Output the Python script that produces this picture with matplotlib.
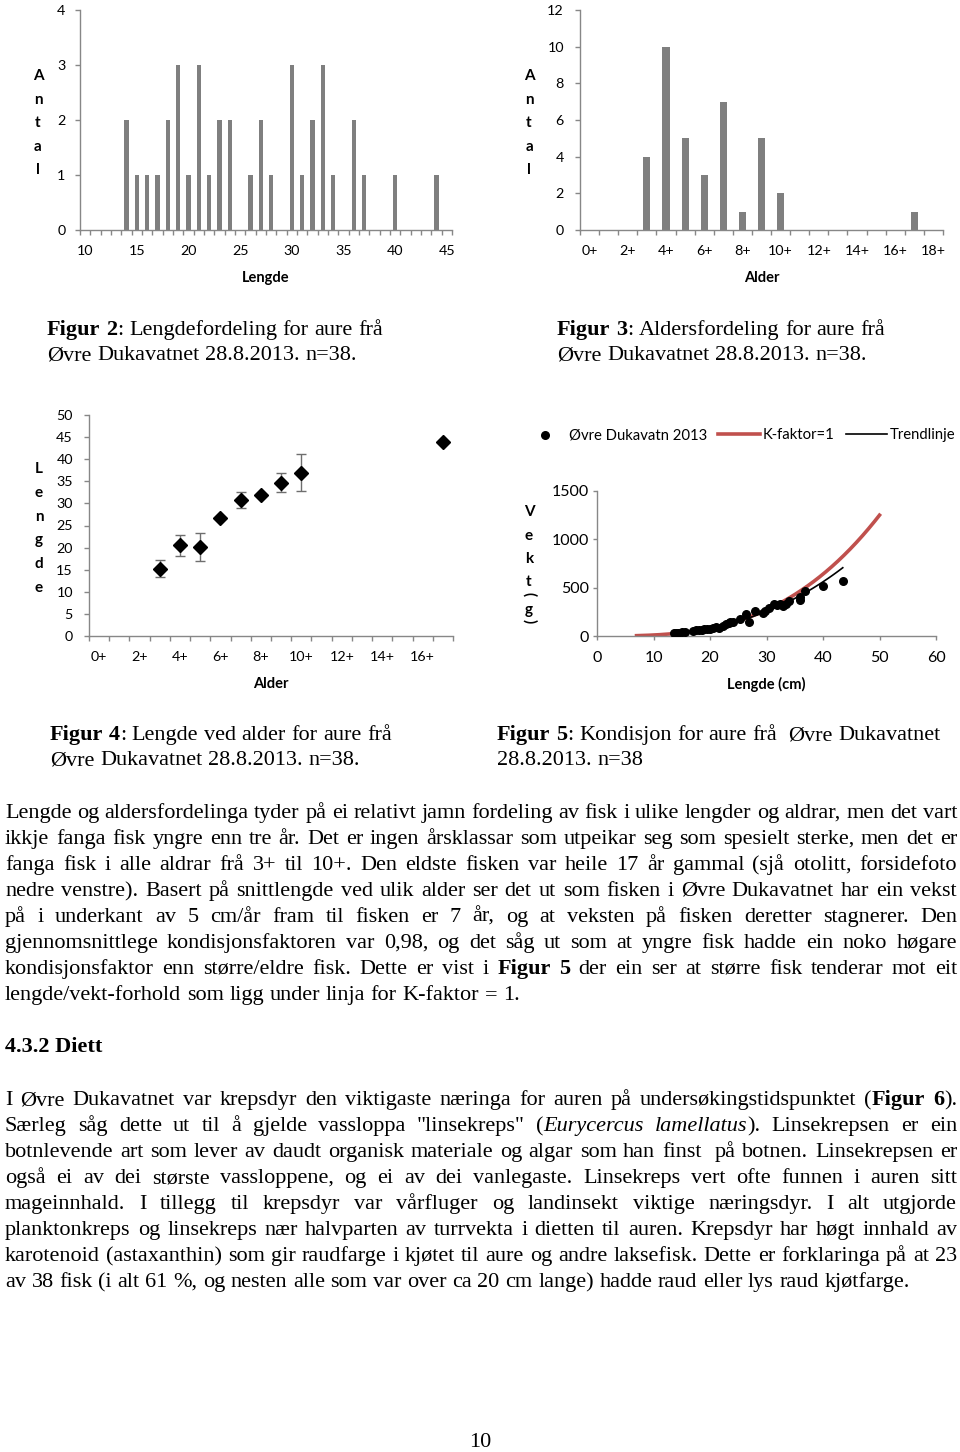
import re
import numpy as np
import matplotlib
matplotlib.use("Agg")
import matplotlib.pyplot as plt

# ---------------- data ----------------
length_classes = list(range(10, 46))
length_counts = [0, 0, 0, 0, 2, 1, 1, 1, 2, 3, 1, 3, 1, 2, 2, 0, 1, 2, 1, 0,
                 3, 1, 2, 3, 1, 0, 2, 1, 0, 0, 1, 0, 0, 0, 1, 0]
length_ticks = [10, 15, 20, 25, 30, 35, 40, 45]

age_labels = ['0+', '1+', '2+', '3+', '4+', '5+', '6+', '7+', '8+', '9+', '10+',
              '11+', '12+', '13+', '14+', '15+', '16+', '17+', '18+']
age_counts = [0, 0, 0, 4, 10, 5, 3, 7, 1, 5, 2, 0, 0, 0, 0, 0, 0, 1, 0]

la_labels = ['0+', '1+', '2+', '3+', '4+', '5+', '6+', '7+', '8+', '9+', '10+',
             '11+', '12+', '13+', '14+', '15+', '16+', '17+']
la_age_index = [3, 4, 5, 6, 7, 8, 9, 10, 17]
la_mean = [15.2, 20.5, 20.1, 26.6, 30.7, 31.9, 34.7, 36.9, 43.9]
la_err = [1.9, 2.3, 3.1, 0.0, 1.8, 0.0, 2.2, 4.2, 0.0]

fish_length = [13.6, 14.0, 14.4, 15.0, 15.6, 17.0, 17.5, 18.0, 18.5, 18.9,
               19.4, 20.0, 20.6, 21.1, 21.6, 22.3, 22.8, 23.3, 23.6, 24.0,
               25.3, 26.4, 26.9, 27.9, 29.3, 29.7, 30.5, 31.3, 31.8, 32.4,
               33.0, 33.4, 33.9, 35.9, 36.0, 36.9, 40.0, 43.5]
fish_weight = [28, 30, 33, 38, 42, 55, 58, 62, 66, 70,
               74, 76, 82, 92, 86, 108, 125, 138, 145, 150,
               178, 228, 140, 262, 236, 262, 292, 330, 325, 335,
               312, 330, 362, 372, 405, 462, 515, 568]
k_factor = 1.0
k_range = (7, 50)

para1 = [
    "Lengde og aldersfordelinga tyder på ei relativt jamn fordeling av fisk i ulike lengder og aldrar, men det vart",
    "ikkje fanga fisk yngre enn tre år. Det er ingen årsklassar som utpeikar seg som spesielt sterke, men det er",
    "fanga fisk i alle aldrar frå 3+ til 10+. Den eldste fisken var heile 17 år gammal (sjå otolitt, forsidefoto",
    "nedre venstre). Basert på snittlengde ved ulik alder ser det ut som fisken i Øvre Dukavatnet har ein vekst",
    "på i underkant av 5 cm/år fram til fisken er 7 år, og at veksten på fisken deretter stagnerer. Den",
    "gjennomsnittlege kondisjonsfaktoren var 0,98, og det såg ut som at yngre fisk hadde ein noko høgare",
    "kondisjonsfaktor enn større/eldre fisk. Dette er vist i **Figur 5** der ein ser at større fisk tenderar mot eit",
    "lengde/vekt-forhold som ligg under linja for K-faktor = 1.",
]
para2 = [
    "I Øvre Dukavatnet var krepsdyr den viktigaste næringa for auren på undersøkingstidspunktet (**Figur 6**).",
    "Særleg såg dette ut til å gjelde vassloppa \"linsekreps\" (_Eurycercus lamellatus_). Linsekrepsen er ein",
    "botnlevende art som lever av daudt organisk materiale og algar som han finst  på botnen. Linsekrepsen er",
    "også ei av dei største vassloppene, og ei av dei vanlegaste. Linsekreps vert ofte funnen i auren sitt",
    "mageinnhald. I tillegg til krepsdyr var vårfluger og landinsekt viktige næringsdyr. I alt utgjorde",
    "planktonkreps og linsekreps nær halvparten av turrvekta i dietten til auren. Krepsdyr har høgt innhald av",
    "karotenoid (astaxanthin) som gir raudfarge i kjøtet til aure og andre laksefisk. Dette er forklaringa på at 23",
    "av 38 fisk (i alt 61 %, og nesten alle som var over ca 20 cm lange) hadde raud eller lys raud kjøtfarge.",
]
cap2 = ["**Figur 2**: Lengdefordeling for aure frå", "Øvre Dukavatnet 28.8.2013. n=38."]
cap3 = ["**Figur 3**: Aldersfordeling for aure frå", "Øvre Dukavatnet 28.8.2013. n=38."]
cap4 = ["**Figur 4**: Lengde ved alder for aure frå", "Øvre Dukavatnet 28.8.2013. n=38."]
cap5 = ["**Figur 5**: Kondisjon for aure frå  Øvre Dukavatnet", "28.8.2013. n=38"]

# ---------------- setup ----------------
plt.rcParams['font.family'] = ['Lato', 'DejaVu Sans']
W, H = 960, 1452
fig = plt.figure(figsize=(W / 100, H / 100), dpi=100)
renderer = fig.canvas.get_renderer()
SERIF = ['Liberation Serif', 'DejaVu Serif']
GRAY = '#878787'
BAR = '#7f7f7f'


def rect(x0, y0, x1, y1):
    return [x0 / W, 1 - y1 / H, (x1 - x0) / W, (y1 - y0) / H]


def ftext(x, y, s, **kw):
    return fig.text(x / W, 1 - y / H, s, **kw)


def style_ax(ax):
    for s in ['top', 'right']:
        ax.spines[s].set_visible(False)
    for s in ['left', 'bottom']:
        ax.spines[s].set_color(GRAY)
        ax.spines[s].set_linewidth(1.0)
    ax.tick_params(which='both', colors=GRAY, labelcolor='black', direction='out', width=1.0)


def stacked(x, ytop, letters, step=23.6, size=11):
    for i, ch in enumerate(letters):
        ftext(x, ytop + i * step, ch, ha='center', va='center', fontsize=size, fontweight='bold')


# ---------------- Figure 2 ----------------
ax1 = fig.add_axes(rect(80, 10, 452, 230))
style_ax(ax1)
ax1.bar(length_classes, length_counts, width=0.45, color=BAR)
ax1.set_xlim(9.5, 45.5)
ax1.set_ylim(0, 4)
ax1.set_xticks(length_ticks)
ax1.set_xticks(np.arange(9.5, 46, 1), minor=True)
ax1.set_yticks(range(0, 5))
ax1.tick_params(axis='x', which='major', length=0, pad=11, labelsize=10.3)
ax1.tick_params(axis='x', which='minor', length=3.6)
ax1.tick_params(axis='y', length=3.6, pad=7, labelsize=10.3)
ftext(266, 278, 'Lengde', ha='center', va='center', fontsize=10.5, fontweight='bold')
stacked(38, 76, 'Antal')

# ---------------- Figure 3 ----------------
ax2 = fig.add_axes(rect(580, 10, 943, 230))
style_ax(ax2)
ax2.bar(range(len(age_counts)), age_counts, width=0.37, color=BAR)
ax2.set_xlim(-0.5, len(age_counts) - 0.5)
ax2.set_ylim(0, 12)
ax2.set_xticks(range(0, len(age_labels), 2))
ax2.set_xticklabels(age_labels[::2])
ax2.set_xticks(np.arange(-0.5, len(age_counts), 1), minor=True)
ax2.set_yticks(range(0, 13, 2))
ax2.tick_params(axis='x', which='major', length=0, pad=11, labelsize=10.3)
ax2.tick_params(axis='x', which='minor', length=3.6)
ax2.tick_params(axis='y', length=3.6, pad=8, labelsize=10.3)
ftext(762, 278, 'Alder', ha='center', va='center', fontsize=10.5, fontweight='bold')
stacked(529, 76, 'Antal')

# ---------------- Figure 4 ----------------
ax3 = fig.add_axes(rect(89, 415, 453, 636))
style_ax(ax3)
ax3.errorbar(la_age_index, la_mean, yerr=la_err, fmt='D', color='black', ms=7,
             ecolor='#6e6e6e', elinewidth=1.0, capsize=3.3, capthick=1.0, zorder=3)
ax3.set_xlim(-0.5, len(la_labels) - 0.5)
ax3.set_ylim(0, 50)
ax3.set_xticks(range(0, len(la_labels), 2))
ax3.set_xticklabels(la_labels[::2])
ax3.set_xticks(np.arange(-0.5, len(la_labels), 1), minor=True)
ax3.set_yticks(range(0, 51, 5))
ax3.tick_params(axis='x', which='major', length=0, pad=11, labelsize=10.3)
ax3.tick_params(axis='x', which='minor', length=3.6)
ax3.tick_params(axis='y', length=3.6, pad=8, labelsize=10.3)
ftext(271, 684, 'Alder', ha='center', va='center', fontsize=10.5, fontweight='bold')
stacked(39, 469, 'Lengde', step=23.8)

# ---------------- Figure 5 ----------------
ax4 = fig.add_axes(rect(597, 491, 936, 636))
style_ax(ax4)
L = np.array(fish_length, dtype=float)
Wt = np.array(fish_weight, dtype=float)
kl = np.linspace(k_range[0], k_range[1], 200)
red, = ax4.plot(kl, k_factor * kl ** 3 / 100.0, color='#c0504d', lw=2.6, zorder=2)
b, a = np.polyfit(np.log(L), np.log(Wt), 1)
tl = np.linspace(L.min(), L.max(), 100)
blk, = ax4.plot(tl, np.exp(a) * tl ** b, color='black', lw=1.2, zorder=3)
sc = ax4.scatter(L, Wt, s=30, color='black', zorder=4)
ax4.set_xlim(0, 60)
ax4.set_ylim(0, 1500)
ax4.set_xticks(range(0, 61, 10))
ax4.set_yticks([0, 500, 1000, 1500])
ax4.tick_params(axis='x', length=3, pad=8, labelsize=11.5)
ax4.tick_params(axis='y', length=3, pad=3, labelsize=11.5)
ax4.legend([sc, red, blk], ['Øvre Dukavatn 2013', 'K-faktor=1', 'Trendlinje'],
           loc='center', bbox_to_anchor=(740 / W, 1 - 435 / H), bbox_transform=fig.transFigure,
           ncol=3, frameon=False, fontsize=10.7, handlelength=2.8, handletextpad=0.2,
           columnspacing=0.75, borderpad=0, scatterpoints=1)
ftext(766, 684, 'Lengde (cm)', ha='center', va='center', fontsize=10.5, fontweight='bold')
stacked(529, 512, 'Vekt', step=23.5)
ftext(529, 594, '(', ha='center', va='center', fontsize=11, fontweight='bold', rotation=270)
ftext(529, 610, 'g', ha='center', va='center', fontsize=11, fontweight='bold')
ftext(529, 621, ')', ha='center', va='center', fontsize=11, fontweight='bold', rotation=270)


# ---------------- text helpers ----------------
def parse(s):
    runs, style, buf, i = [], 'n', '', 0
    while i < len(s):
        if s.startswith('**', i):
            if buf:
                runs.append((buf, style)); buf = ''
            style = 'n' if style == 'b' else 'b'; i += 2; continue
        if s[i] == '_':
            if buf:
                runs.append((buf, style)); buf = ''
            style = 'n' if style == 'i' else 'i'; i += 1; continue
        buf += s[i]; i += 1
    if buf:
        runs.append((buf, style))
    return runs


def tokenize(markup):
    words, cur, pending = [], None, 0
    for text, st in parse(markup):
        for chunk in re.split(r'( +)', text):
            if not chunk:
                continue
            if chunk.startswith(' '):
                pending += len(chunk); cur = None
            else:
                if cur is None:
                    cur = [pending, []]; words.append(cur); pending = 0
                cur[1].append((chunk, st))
    return words


def fontkw(st, size):
    return dict(fontsize=size, family=SERIF,
                fontweight='bold' if st == 'b' else 'normal',
                fontstyle='italic' if st == 'i' else 'normal')


def measure(t, st, size):
    tx = fig.text(0, 0, t, **fontkw(st, size))
    w = tx.get_window_extent(renderer).width
    tx.remove()
    return w


def space_w(size):
    return measure('a a', 'n', size) - measure('aa', 'n', size)


def line_layout(markup, size):
    words = tokenize(markup)
    widths = [[measure(p, st, size) for p, st in w[1]] for w in words]
    return words, widths


def draw_line(markup, x0, x1, y, size, justify=True):
    words, widths = line_layout(markup, size)
    total = sum(sum(ws) for ws in widths)
    nsp = sum(w[0] for w in words[1:])
    sp = space_w(size)
    unit = (x1 - x0 - total) / nsp if (justify and nsp > 0) else sp
    x = x0
    for k, (w, ws) in enumerate(zip(words, widths)):
        if k > 0:
            x += unit * w[0]
        for (p, st), pw in zip(w[1], ws):
            ftext(x, y, p, ha='left', va='baseline', color='black', **fontkw(st, size))
            x += pw


def fit_size(lines, x0, x1, base, spfac):
    s = base
    for ln in lines:
        words, widths = line_layout(ln, base)
        total = sum(sum(ws) for ws in widths)
        nsp = sum(w[0] for w in words[1:])
        need = total + spfac * nsp * space_w(base)
        s = min(s, base * (x1 - x0) / need)
    return s


def draw_para(lines, x0, x1, y0, step, size):
    for i, ln in enumerate(lines):
        draw_line(ln, x0, x1, y0 + i * step, size, justify=(i < len(lines) - 1))


BODY = fit_size(para1[:-1] + para2[:-1], 5, 957, 17.0, 0.95)

# captions
for cap, x, y in [(cap2, 47, 335), (cap3, 557, 335), (cap4, 50, 740), (cap5, 497, 740)]:
    for i, ln in enumerate(cap):
        draw_line(ln, x, 960, y + i * 25.5, BODY, justify=False)

draw_para(para1, 5, 957, 818, 26.0, BODY)
ftext(5, 1052, '4.3.2 Diett', ha='left', va='baseline', **fontkw('b', BODY))
draw_para(para2, 5, 957, 1105, 26.0, BODY)
ftext(480, 1447, '10', ha='center', va='baseline', **fontkw('n', BODY))

fig.savefig('out.png', dpi=100)
